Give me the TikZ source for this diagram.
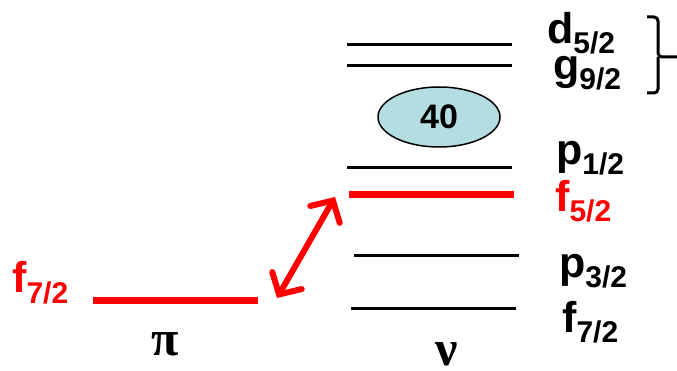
\documentclass[tikz,border=0pt]{standalone}
\usepackage{fontspec}
\setmainfont{Liberation Sans}
\newfontfamily\greekfont{Liberation Serif}
\usetikzlibrary{arrows.meta, shapes.geometric}
\definecolor{LvlRed}{RGB}{255,0,0}
\definecolor{CoreBlue}{RGB}{180,221,226}
\newcommand{\orb}[2]{#1\raisebox{-10pt}{\fontsize{30}{30}\selectfont #2}}

\begin{document}
\begin{tikzpicture}[x=1pt, y=-1pt,
    lvl/.style={line width=3pt},
    occ/.style={line width=7pt, draw=LvlRed},
    lab/.style={anchor=base west, inner sep=0pt,
                font=\fontsize{43}{43}\selectfont\bfseries},
    grk/.style={anchor=base, inner sep=0pt,
                font=\fontsize{50}{50}\selectfont\greekfont\bfseries},
    arr/.style={{Straight Barb[length=16pt, width=34pt, line cap=round]}-{Straight Barb[length=16pt, width=34pt, line cap=round]},
                line width=6pt, draw=LvlRed, line cap=round}
  ]
  \useasboundingbox (0,0) rectangle (677,371);

  % proton side
  \coordinate (pl) at (93,300);
  \coordinate (pr) at (258,300);
  \draw[occ] (pl) -- (pr);
  \node[lab, text=LvlRed] (pf7) at (12,293) {\orb{f}{7/2}};
  \node[grk] (pi) at (165,355) {π};

  % neutron side
  \coordinate (d1) at (347,45);  \coordinate (d2) at (512,45);
  \coordinate (g1) at (347,66);  \coordinate (g2) at (512,66);
  \coordinate (p1) at (347,168); \coordinate (p2) at (512,168);
  \coordinate (f1) at (349,195); \coordinate (f2) at (514,195);
  \coordinate (q1) at (354,256); \coordinate (q2) at (519,256);
  \coordinate (h1) at (351,308); \coordinate (h2) at (516,308);
  \draw[lvl] (d1) -- (d2);
  \draw[lvl] (g1) -- (g2);
  \draw[lvl] (p1) -- (p2);
  \draw[occ] (f1) -- (f2);
  \draw[lvl] (q1) -- (q2);
  \draw[lvl] (h1) -- (h2);

  \node[ellipse, draw, line width=1.5pt, fill=CoreBlue, minimum width=122pt,
        minimum height=60pt, inner sep=0pt,
        font=\fontsize{34}{34}\selectfont\bfseries] (core) at (439,117) {40};

  \node[lab] (nd5) at (547,44)  {\orb{d}{5/2}};
  \node[lab] (ng9) at (553,80)  {\orb{g}{9/2}};
  \node[lab] (np1) at (556,165) {\orb{p}{1/2}};
  \node[lab, text=LvlRed] (nf5) at (555,212) {\orb{f}{5/2}};
  \node[lab] (np3) at (559,277) {\orb{p}{3/2}};
  \node[lab] (nf7) at (562,332) {\orb{f}{7/2}};
  \node[grk] (nu) at (447,365) {ν};

  % bracket
  \coordinate (bt) at (647,17);
  \coordinate (bb) at (647,93);
  \coordinate (bm) at (677,57);
  \draw[line width=3pt, rounded corners=4pt] (bt) -| (658,57) -- (bm);
  \draw[line width=3pt, rounded corners=4pt] (bb) -| (658,57);

  % transition
  \coordinate (ta) at (277,298);
  \coordinate (tb) at (335,197);
  \draw[arr] (ta) -- (tb);
\end{tikzpicture}
\end{document}
